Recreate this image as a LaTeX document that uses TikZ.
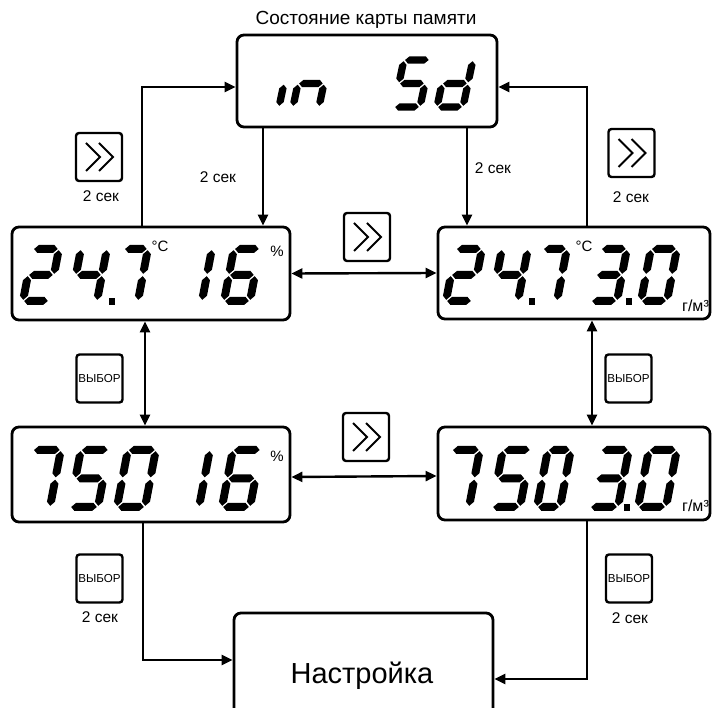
\documentclass[tikz,border=0pt]{standalone}
\usepackage{fontspec}
\setmainfont{Liberation Sans}
\usetikzlibrary{arrows.meta}
\def\sgp{1.2}
\newcommand\dset[4]{\def\sW{#1}\def\sH{#2}\def\sht{#3}\def\sk{#4}}
\newcommand\segH[3]{\fill (#1+\sgp,#3) -- (#1+\sgp+\sht,#3-\sht) -- (#2-\sgp-\sht,#3-\sht) -- (#2-\sgp,#3) -- (#2-\sgp-\sht,#3+\sht) -- (#1+\sgp+\sht,#3+\sht) -- cycle;}
\newcommand\segV[3]{\fill (#1,#2+\sgp) -- (#1+\sht,#2+\sgp+\sht) -- (#1+\sht,#3-\sgp-\sht) -- (#1,#3-\sgp) -- (#1-\sht,#3-\sgp-\sht) -- (#1-\sht,#2+\sgp+\sht) -- cycle;}
\def\sga{\segH{0}{\sW}{-\sH}}
\def\sgb{\segV{\sW}{-\sH}{-\sH/2}}
\def\sgc{\segV{\sW}{-\sH/2}{0}}
\def\sgd{\segH{0}{\sW}{0}}
\def\sge{\segV{0}{-\sH/2}{0}}
\def\sgf{\segV{0}{-\sH}{-\sH/2}}
\def\sgg{\segH{0}{\sW}{-\sH/2}}
\newcommand\sdig[3]{\begin{scope}[shift={(#1,#2)}, xslant=\sk]\foreach \s in {#3}{\csname sg\s\endcsname}\end{scope}}
\newcommand\sdigw[4]{\begingroup\def\sW{#1}\sdig{#2}{#3}{#4}\endgroup}
\newcommand\dpt[2]{\fill (#1-3,#2-3) rectangle (#1+3,#2+4);}
\newcommand\chev[1]{%
 \draw[line width=2pt] ([shift={(-13,-14)}]#1.center) -- ([shift={(1,0)}]#1.center) -- ([shift={(-13,14)}]#1.center);
 \draw[line width=2pt] ([shift={(0,-14)}]#1.center) -- ([shift={(14,0)}]#1.center) -- ([shift={(0,14)}]#1.center);}
\begin{document}
\begin{tikzpicture}[x=1pt,y=-1pt,
 disp/.style={draw, line width=2.8pt, rounded corners=7pt, inner sep=0pt},
 btn/.style={draw, line width=2.4pt, rounded corners=3pt, inner sep=0pt, minimum width=46pt, minimum height=48pt},
 conn/.style={line width=2.4pt},
 tp/.style={-{Triangle[length=11pt,width=10pt]}},
 tpp/.style={{Triangle[length=11pt,width=10pt]}-{Triangle[length=11pt,width=10pt]}},
 lbl/.style={font=\fontsize{15.5}{18}\selectfont, inner sep=0pt, anchor=base},
 unit/.style={font=\fontsize{15}{17}\selectfont, inner sep=0pt},
 vyb/.style={font=\fontsize{11.6}{13}\selectfont}]
\useasboundingbox (0,0) rectangle (713,708);
\clip (0,0) rectangle (713,708);
% boxes
\node[disp, minimum width=260pt, minimum height=92pt] (top) at (367,81) {};
\node[disp, minimum width=278pt, minimum height=93pt] (lm) at (151,273.5) {};
\node[disp, minimum width=272pt, minimum height=92pt] (rm) at (574,273) {};
\node[disp, minimum width=278pt, minimum height=95pt] (bl) at (151,474.5) {};
\node[disp, minimum width=272pt, minimum height=93pt] (br) at (574,473.5) {};
\node[disp, minimum width=259pt, minimum height=106pt] (set) at (363.5,666) {};
\node[font=\fontsize{29}{34}\selectfont, inner sep=0pt, anchor=base] (settxt) at (362,684) {Настройка};
\node[font=\fontsize{19}{22}\selectfont, inner sep=0pt, anchor=base] (title) at (366,25) {Состояние карты памяти};
% buttons
\node[btn] (c1) at (99,157) {}; \chev{c1}
\node[btn] (c2) at (631.5,153) {}; \chev{c2}
\node[btn] (c3) at (367,237) {}; \chev{c3}
\node[btn] (c4) at (366,437) {}; \chev{c4}
\node[btn, vyb] (v1) at (99.5,378.5) {ВЫБОР};
\node[btn, vyb] (v2) at (628.5,378.5) {ВЫБОР};
\node[btn, vyb] (v3) at (99.5,578.5) {ВЫБОР};
\node[btn, vyb] (v4) at (629,578.5) {ВЫБОР};
% labels
\node[lbl] (s1) at (101,202) {2 сек};
\node[lbl] (s2) at (631,203) {2 сек};
\node[lbl] (s3) at (218,183) {2 сек};
\node[lbl] (s4) at (493,174) {2 сек};
\node[lbl] (s5) at (100,623) {2 сек};
\node[lbl] (s6) at (630,624) {2 сек};
% connectors
\draw[conn,tp] ([shift={(-9,0)}]lm.north) |- ([shift={(0,6)}]top.west);
\draw[conn,tp] ([shift={(13,0)}]rm.north) |- ([shift={(0,6)}]top.east);
\draw[conn,tp] ([shift={(-104,0)}]top.south) -- ([shift={(-104,0)}]top.south |- lm.north);
\draw[conn,tp] ([shift={(100,0)}]top.south) -- ([shift={(100,0)}]top.south |- rm.north);
\draw[conn,tpp] (lm.east) -- (rm.west);
\draw[conn,tpp] ([shift={(0,2.5)}]bl.east) -- ([shift={(0,2.5)}]br.west);
\draw[conn,tpp] ([shift={(-6,0)}]lm.south) -- ([shift={(-6,0)}]bl.north);
\draw[conn,tpp] ([shift={(18,0)}]rm.south) -- ([shift={(18,0)}]br.north);
\draw[conn,tp] ([shift={(-8,0)}]bl.south) |- ([shift={(0,-6)}]set.west);
\draw[conn,tp] ([shift={(13,0)}]br.south) |- ([shift={(0,13)}]set.east);
% units
\node[unit] (u1) at (160,246) {°C};
\node[unit] (u2) at (277,251) {\%};
\node[unit] (u3) at (584,246) {°C};
\node[unit, anchor=base west, font=\fontsize{16}{18}\selectfont] (u4) at (682,312) {г/м³};
\node[unit] (u5) at (277,456) {\%};
\node[unit, anchor=base west, font=\fontsize{16}{18}\selectfont] (u6) at (682,512) {г/м³};
% top display: in Sd
\dset{26}{47}{3.7}{0.21}
\sdig{279}{107}{e}
\sdig{293}{107}{c,e,g}
\sdig{394}{107}{a,f,g,c,d}
\sdig{437}{107}{b,c,d,e,g}
% left middle: 24.7 16
\dset{26}{52}{4}{0.19}
\sdig{23}{301}{a,b,g,e,d}
\sdig{71}{301}{f,g,b,c}
\dpt{112}{301}
\sdigw{24}{114}{301}{a,b,c}
\sdig{176}{301}{b,c}
\sdig{224}{301}{a,f,g,e,d,c}
% right middle: 24.73.0
\sdig{446}{301}{a,b,g,e,d}
\sdig{492}{301}{f,g,b,c}
\dpt{532}{301}
\sdigw{24}{533}{301}{a,b,c}
\sdig{591}{301}{a,b,g,c,d}
\dpt{629}{301}
\sdig{641}{301}{a,b,c,d,e,f}
% bottom left: 750 16
\dset{28}{57}{4}{0.19}
\sdig{22}{507}{a,b,c}
\sdig{70}{507}{a,f,g,c,d}
\sdig{117}{507}{a,b,c,d,e,f}
\sdig{171}{507}{b,c}
\sdig{222}{507}{a,f,g,e,d,c}
% bottom right: 750 3.0
\sdig{441}{507}{a,b,c}
\sdig{492}{507}{a,f,g,c,d}
\sdigw{23}{537}{507}{a,b,c,d,e,f}
\sdig{590}{507}{a,b,g,c,d}
\dpt{627}{507}
\sdig{638}{507}{a,b,c,d,e,f}
\end{tikzpicture}
\end{document}
